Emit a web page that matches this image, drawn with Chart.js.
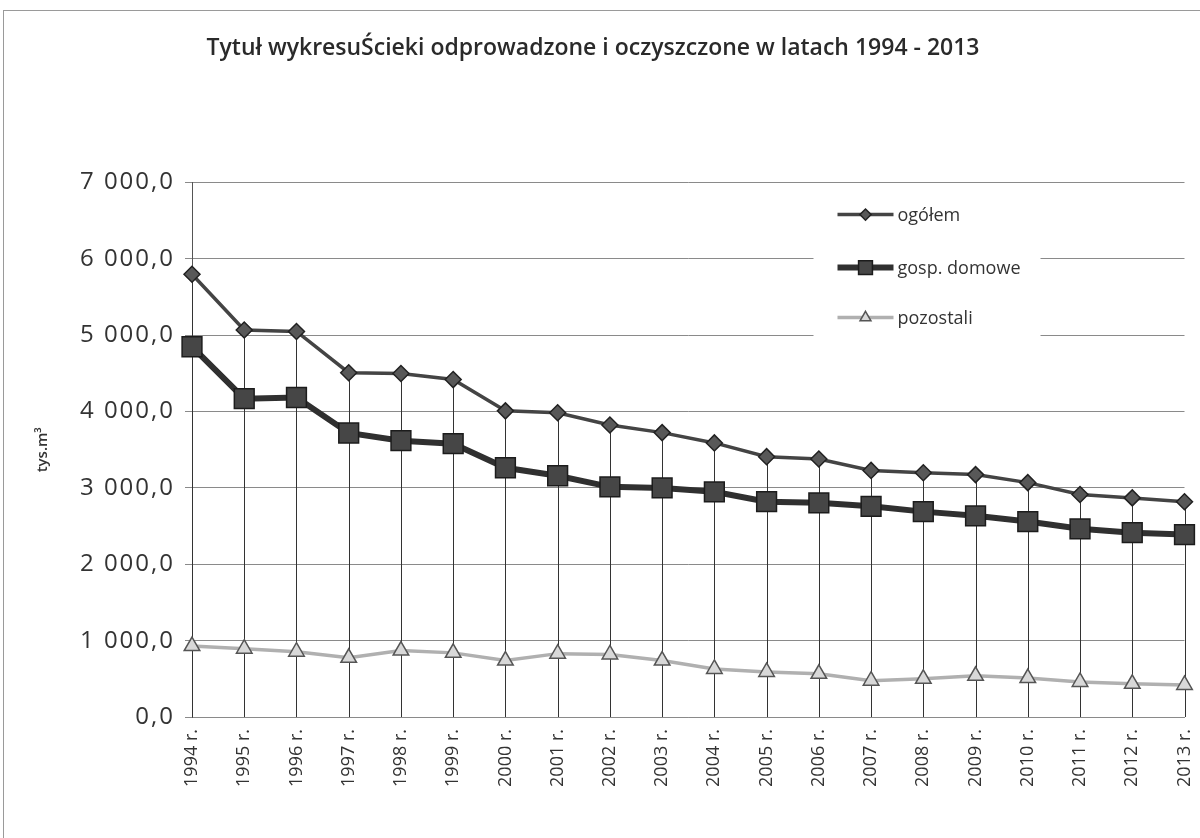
<!DOCTYPE html>
<html>
<head>
<meta charset="utf-8">
<script src="https://cdn.jsdelivr.net/npm/chart.js@4.4.1/dist/chart.umd.min.js"></script>
<style>
  body { margin: 0; background: #fff; }
  #wrap { position: relative; width: 1200px; height: 838px; overflow: hidden; }
  #frame { position: absolute; left: 3px; top: 10px; width: 1210px; height: 840px;
           border-left: 1px solid #9a9a9a; border-top: 1px solid #9a9a9a; }
  canvas { position: absolute; left: 0; top: 0; }
</style>
</head>
<body>
<div id="wrap">
  <div id="frame"></div>
  <canvas id="sewage" width="1200" height="838"></canvas>
</div>
<script>
const years = ['1994 r.', '1995 r.', '1996 r.', '1997 r.', '1998 r.', '1999 r.', '2000 r.',
               '2001 r.', '2002 r.', '2003 r.', '2004 r.', '2005 r.', '2006 r.', '2007 r.',
               '2008 r.', '2009 r.', '2010 r.', '2011 r.', '2012 r.', '2013 r.'];

// ogółem
const total = [5800, 5070, 5050, 4510, 4500, 4420, 4010, 3985, 3825, 3725,
               3590, 3410, 3380, 3230, 3200, 3175, 3070, 2915, 2870, 2820];
// gosp. domowe
const households = [4850, 4170, 4185, 3720, 3620, 3580, 3265, 3160, 3015, 3000,
                    2950, 2820, 2805, 2760, 2690, 2635, 2560, 2465, 2415, 2390];
// pozostali
const others = [930, 895, 855, 775, 870, 840, 740, 830, 820, 740,
                630, 590, 565, 475, 500, 540, 510, 460, 435, 420];

const yTicks = [0, 1000, 2000, 3000, 4000, 5000, 6000, 7000];

const FONT = '"Open Sans", "DejaVu Sans", sans-serif';

function plNumber(v) {
    const parts = Number(v).toFixed(1).split('.');
    return parts[0].replace(/\B(?=(\d{3})+(?!\d))/g, ' ') + ',' + parts[1];
}

// vertical drop lines from the highest point down to the axis
const dropLines = {
    id: 'dropLines',
    beforeDatasetsDraw(chart) {
        const {ctx, chartArea, scales: {x, y}} = chart;
        ctx.save();
        ctx.strokeStyle = '#333';
        ctx.lineWidth = 1;
        years.forEach((lab, i) => {
            const top = Math.max(total[i], households[i], others[i]);
            const px = Math.round(x.getPixelForValue(i)) + 0.5;
            ctx.beginPath();
            ctx.moveTo(px, y.getPixelForValue(top));
            ctx.lineTo(px, chartArea.bottom);
            ctx.stroke();
        });
        ctx.restore();
    }
};

// legend drawn inside the plot, top right, on a white box
const insideLegend = {
    id: 'insideLegend',
    afterDatasetsDraw(chart) {
        const {ctx, chartArea} = chart;
        const left = chartArea.right - 371, top = chartArea.top + 6;
        ctx.save();
        ctx.fillStyle = '#fff';
        ctx.fillRect(left, top, 227, 152);
        const rows = [26, 79, 129];
        chart.data.datasets.forEach((ds, i) => {
            const cy = top + rows[i];
            ctx.strokeStyle = ds.borderColor;
            ctx.lineWidth = ds.borderWidth;
            ctx.beginPath();
            ctx.moveTo(left + 24, cy);
            ctx.lineTo(left + 80, cy);
            ctx.stroke();
            ctx.fillStyle = ds.pointBackgroundColor;
            ctx.strokeStyle = ds.pointBorderColor;
            ctx.lineWidth = ds.pointBorderWidth;
            Chart.helpers.drawPoint(ctx, {pointStyle: ds.pointStyle, radius: ds.pointRadius * 0.7, borderWidth: ds.pointBorderWidth}, left + 52, cy);
            ctx.fillStyle = '#333';
            ctx.font = '18px ' + FONT;
            ctx.textBaseline = 'middle';
            ctx.fillText(ds.label, left + 84, cy + 1);
        });
        ctx.restore();
    }
};

// the y labels in the scan are wide; they are drawn after datasets (ticks.z = 1)
const wideTicks = {
    id: 'wideTicks',
    afterDatasetsDraw(chart) { chart.ctx.letterSpacing = '2px'; },
    afterDraw(chart) { chart.ctx.letterSpacing = '0px'; }
};

const ctx = document.getElementById('sewage').getContext('2d');
const chart = new Chart(ctx, {
    type: 'line',
    data: {
        labels: years,
        datasets: [{
            label: 'ogółem',
            data: total,
            borderColor: '#444',
            borderWidth: 3.5,
            pointStyle: 'rectRot',
            pointRadius: 8,
            pointBackgroundColor: '#585858',
            pointBorderColor: '#222',
            pointBorderWidth: 1.5
        }, {
            label: 'gosp. domowe',
            data: households,
            borderColor: '#303030',
            borderWidth: 6,
            pointStyle: 'rect',
            pointRadius: 14,
            pointBackgroundColor: '#464646',
            pointBorderColor: '#1c1c1c',
            pointBorderWidth: 1.5
        }, {
            label: 'pozostali',
            data: others,
            borderColor: '#b0b0b0',
            borderWidth: 3.5,
            pointStyle: 'triangle',
            pointRadius: 9,
            pointBackgroundColor: '#d8d8d8',
            pointBorderColor: '#555',
            pointBorderWidth: 1.5
        }]
    },
    options: {
        responsive: false,
        animation: false,
        devicePixelRatio: 1,
        layout: { padding: { left: 0, right: 14, top: 0, bottom: 0 } },
        plugins: {
            legend: { display: false },
            tooltip: { enabled: false },
            title: {
                display: true,
                text: 'Tytuł wykresuŚcieki odprowadzone i oczyszczone w latach 1994 - 2013',
                color: '#2a2a2a',
                font: { family: FONT, size: 23, weight: '600' },
                padding: { top: 35, bottom: 120 }
            }
        },
        scales: {
            x: {
                offset: false,
                grid: { display: false },
                border: { display: true, color: '#8a8a8a', width: 1 },
                ticks: {
                    color: '#333',
                    font: { family: FONT, size: 18 },
                    minRotation: 90,
                    maxRotation: 90,
                    autoSkip: false,
                    padding: 4
                },
                afterFit(scale) {
                    scale.height = 121;
                    scale.paddingLeft = 0;
                    scale.paddingRight = 0;
                }
            },
            y: {
                min: 0,
                max: 7000,
                afterBuildTicks(scale) { scale.ticks = yTicks.map(v => ({value: v})); },
                grid: { color: '#8a8a8a', lineWidth: 1, tickLength: 7, drawTicks: true },
                border: { display: true, color: '#555', width: 1 },
                ticks: {
                    z: 1,
                    color: '#333',
                    font: { family: FONT, size: 24 },
                    padding: 10,
                    callback: v => plNumber(v)
                },
                title: {
                    display: true,
                    text: 'tys.m³',
                    color: '#333',
                    font: { family: FONT, size: 15, weight: '600' },
                    padding: { top: 34, bottom: 0 }
                },
                afterFit(scale) { scale.width = 192; }
            }
        }
    },
    plugins: [dropLines, insideLegend, wideTicks]
});
</script>
</body>
</html>
